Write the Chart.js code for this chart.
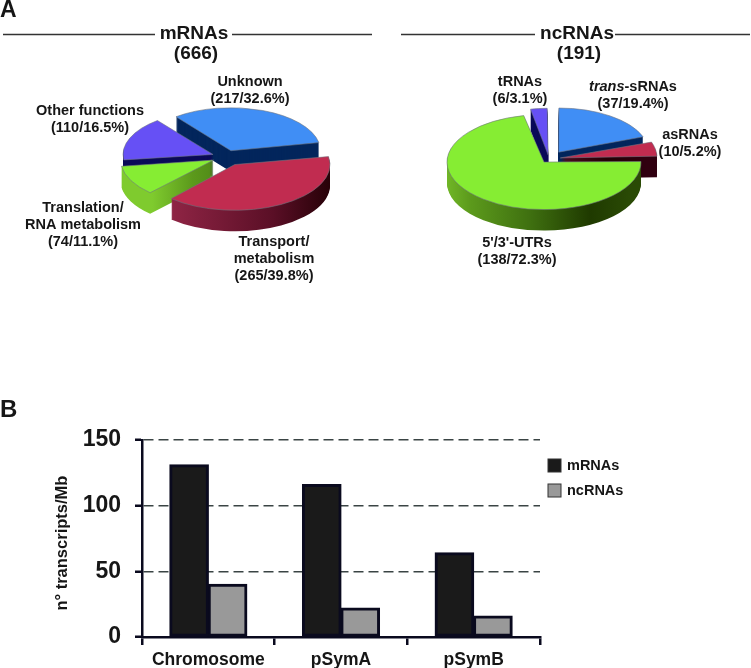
<!DOCTYPE html>
<html>
<head>
<meta charset="utf-8">
<title>Transcripts</title>
<script src="https://cdn.jsdelivr.net/npm/chart.js@4"></script>
<style>
  html, body { margin: 0; padding: 0; background: #fff; }
  #page { position: relative; width: 751px; height: 668px; overflow: hidden; }
  canvas { position: absolute; display: block; }
</style>
</head>
<body>
<div id="page">
  <canvas id="pieM" width="375" height="300" style="left:0;top:0"></canvas>
  <canvas id="pieN" width="376" height="300" style="left:375px;top:0"></canvas>
  <canvas id="bars" width="751" height="278" style="left:0;top:390px"></canvas>
</div>
<script>
// Panel A data
const mrnaNames = [['Unknown'], ['Transport/', 'metabolism'], ['Translation/', 'RNA metabolism'], ['Other functions']];
const mrnaCounts = [217, 265, 74, 110];
const mrnaPercents = [32.6, 39.8, 11.1, 16.5];
const ncrnaNames = [['trans-sRNAs'], ['asRNAs'], ["5'/3'-UTRs"], ['tRNAs']];
const ncrnaCounts = [37, 10, 138, 6];
const ncrnaPercents = [19.4, 5.2, 72.3, 3.1];

// Panel B data
const replicons = ['Chromosome', 'pSymA', 'pSymB'];
const mrnaDensity = [131, 116, 64];
const ncrnaDensity = [40, 22, 16];

const sliceColors = ['#408ef5', '#c12c50', '#86ed33', '#6650f5'];
const FONT = '"Liberation Sans", Arial, sans-serif';
const INK = '#161616';

function wallColor(ctx, name, left, right) {
    if (name === 'navy') return '#03265c';
    if (name === 'indigo') return '#0b0b58';
    const g = ctx.createLinearGradient(left, 0, right, 0);
    if (name === 'red') {
        g.addColorStop(0, '#8e2444');
        g.addColorStop(0.5, '#5a0f26');
        g.addColorStop(0.8, '#240006');
        g.addColorStop(1, '#300010');
    } else {
        g.addColorStop(0, '#7fcb2e');
        g.addColorStop(0.2, '#5c9a1c');
        g.addColorStop(0.5, '#3f7010');
        g.addColorStop(0.8, '#1f3a00');
        g.addColorStop(1, '#2a4a05');
    }
    return g;
}

// Tilts the pie and extrudes every slice, back slices first
const tiltedPie = {
    id: 'tiltedPie',
    beforeDatasetDraw(chart, args, opts) {
        const ctx = chart.ctx;
        const arcs = chart.getDatasetMeta(0).data;
        const left = opts.centerX - opts.radius;
        const right = opts.centerX + opts.radius;
        opts.order.forEach(i => {
            const arc = arcs[i];
            const wall = Object.create(arc.options);
            wall.backgroundColor = wallColor(ctx, opts.walls[i], left, right);
            wall.borderWidth = 0;
            const top = arc.options;
            for (let k = opts.depth; k >= 0; k--) {
                ctx.save();
                ctx.translate(opts.centerX, opts.centerY + k);
                ctx.scale(1, opts.ratio);
                ctx.translate(-arc.x, -arc.y);
                arc.options = k > 0 ? wall : top;
                arc.draw(ctx);
                ctx.restore();
            }
            arc.options = top;
        });
        return false;
    }
};

// Headings and slice labels of panel A
const pieText = {
    id: 'pieText',
    afterDraw(chart, args, opts) {
        const ctx = chart.ctx;
        ctx.save();
        ctx.fillStyle = INK;
        ctx.textBaseline = 'middle';
        ctx.textAlign = 'center';
        if (opts.panel) {
            ctx.textAlign = 'left';
            ctx.font = 'bold 23px ' + FONT;
            ctx.fillText(opts.panel, 0, 11);
            ctx.textAlign = 'center';
        }
        ctx.font = 'bold 19px ' + FONT;
        ctx.fillText(opts.title[0], opts.titleX, 34);
        ctx.fillText(opts.title[1], opts.titleX + 2, 54);
        ctx.strokeStyle = '#333';
        ctx.lineWidth = 1.5;
        opts.rules.forEach(r => {
            ctx.beginPath();
            ctx.moveTo(r[0], 34.5);
            ctx.lineTo(r[1], 34.5);
            ctx.stroke();
        });
        opts.names.forEach((name, i) => {
            const lines = name.concat('(' + opts.counts[i] + '/' + opts.percents[i].toFixed(1) + '%)');
            const pos = opts.labelAt[i];
            lines.forEach((line, n) => {
                const y = pos[1] + n * 17;
                if (line.startsWith('trans-')) {
                    ctx.font = 'italic bold 14.5px ' + FONT;
                    const a = ctx.measureText('trans').width;
                    ctx.textAlign = 'left';
                    ctx.font = 'bold 14.5px ' + FONT;
                    const b = ctx.measureText('-sRNAs').width;
                    ctx.fillText('-sRNAs', pos[0] - (a + b) / 2 + a, y);
                    ctx.font = 'italic bold 14.5px ' + FONT;
                    ctx.fillText('trans', pos[0] - (a + b) / 2, y);
                    ctx.textAlign = 'center';
                } else {
                    ctx.font = 'bold 14.5px ' + FONT;
                    ctx.fillText(line, pos[0], y);
                }
            });
        });
        ctx.restore();
    }
};

function makePie(id, counts, colors, offsets, radius, rotation, shape, text) {
    return new Chart(document.getElementById(id), {
        type: 'pie',
        data: {
            labels: text.names.map(n => n.join(' ')),
            datasets: [{
                data: counts,
                backgroundColor: colors,
                borderColor: '#6f7580',
                borderWidth: 0.8,
                offset: offsets
            }]
        },
        options: {
            responsive: false,
            animation: false,
            rotation: rotation,
            radius: radius,
            layout: { padding: 0 },
            plugins: {
                legend: { display: false },
                tooltip: { enabled: false },
                tiltedPie: shape,
                pieText: text
            }
        },
        plugins: [tiltedPie, pieText]
    });
}

makePie('pieM', mrnaCounts, sliceColors, [56, 72, 56, 56], 88, -38, {
    centerX: 226, centerY: 157, radius: 100, ratio: 0.48, depth: 21,
    order: [0, 3, 2, 1],
    walls: ['navy', 'red', 'green', 'indigo']
}, {
    panel: 'A',
    title: ['mRNAs', '(666)'],
    titleX: 194,
    rules: [[3, 155], [232, 372]],
    names: mrnaNames,
    counts: mrnaCounts,
    percents: mrnaPercents,
    labelAt: [[250, 82], [274, 242], [83, 208], [90, 111]]
});

makePie('pieN', ncrnaCounts, sliceColors, [68, 46, 32, 32], 89, 0, {
    centerX: 174, centerY: 159, radius: 100, ratio: 0.49, depth: 21,
    order: [3, 0, 1, 2],
    walls: ['navy', 'red', 'green', 'indigo']
}, {
    title: ['ncRNAs', '(191)'],
    titleX: 202,
    rules: [[26, 160], [240, 375]],
    names: ncrnaNames,
    counts: ncrnaCounts,
    percents: ncrnaPercents,
    labelAt: [[258, 87], [315, 135], [142, 243], [145, 82]]
});

// Panel letter and legend of panel B
const barText = {
    id: 'barText',
    afterDraw(chart) {
        const ctx = chart.ctx;
        ctx.save();
        ctx.fillStyle = INK;
        ctx.textBaseline = 'middle';
        ctx.font = 'bold 24px ' + FONT;
        ctx.fillText('B', 0, 20);
        ctx.font = 'bold 14.5px ' + FONT;
        chart.data.datasets.forEach((ds, i) => {
            const y = 69 + i * 25;
            ctx.fillStyle = ds.backgroundColor;
            ctx.fillRect(548, y, 13, 13);
            ctx.strokeStyle = '#333';
            ctx.lineWidth = 1;
            ctx.strokeRect(548, y, 13, 13);
            ctx.fillStyle = INK;
            ctx.fillText(ds.label, 567, y + 7);
        });
        ctx.restore();
    }
};

new Chart(document.getElementById('bars'), {
    type: 'bar',
    data: {
        labels: replicons,
        datasets: [
            { label: 'mRNAs', data: mrnaDensity, backgroundColor: '#1a1a1a' },
            { label: 'ncRNAs', data: ncrnaDensity, backgroundColor: '#999999' }
        ]
    },
    options: {
        responsive: false,
        animation: false,
        layout: { padding: { top: 50, right: 211, bottom: 0, left: 0 } },
        datasets: {
            bar: {
                categoryPercentage: 0.58,
                barPercentage: 1,
                borderWidth: 3,
                borderColor: '#0a0a1e',
                borderSkipped: false,
                inflateAmount: 0.6
            }
        },
        scales: {
            x: {
                afterFit(scale) { scale.height = 31; },
                border: { color: '#0a0a1e', width: 2.5 },
                grid: { drawOnChartArea: false, color: '#0a0a1e', tickLength: 8, lineWidth: 2.5 },
                ticks: {
                    color: INK,
                    padding: 5,
                    font: { family: FONT, size: 17.5, weight: 'bold' }
                }
            },
            y: {
                min: 0,
                max: 150,
                afterFit(scale) { scale.width = 142; },
                border: { color: '#0a0a1e', width: 2.5, dash: [10, 5] },
                grid: {
                    color: '#3a4444',
                    lineWidth: 1.5,
                    tickLength: 7,
                    tickColor: '#0a0a1e',
                    tickWidth: 2.5,
                    tickBorderDash: []
                },
                ticks: {
                    stepSize: 50,
                    color: INK,
                    padding: 14,
                    font: { family: FONT, size: 23, weight: 'bold' }
                },
                title: {
                    display: true,
                    text: 'n° transcripts/Mb\u00a0\u00a0',
                    color: INK,
                    padding: { top: 53, bottom: 0 },
                    font: { family: FONT, size: 16.5, weight: 'bold' }
                }
            }
        },
        plugins: {
            legend: { display: false },
            tooltip: { enabled: false }
        }
    },
    plugins: [barText]
});
</script>
</body>
</html>
